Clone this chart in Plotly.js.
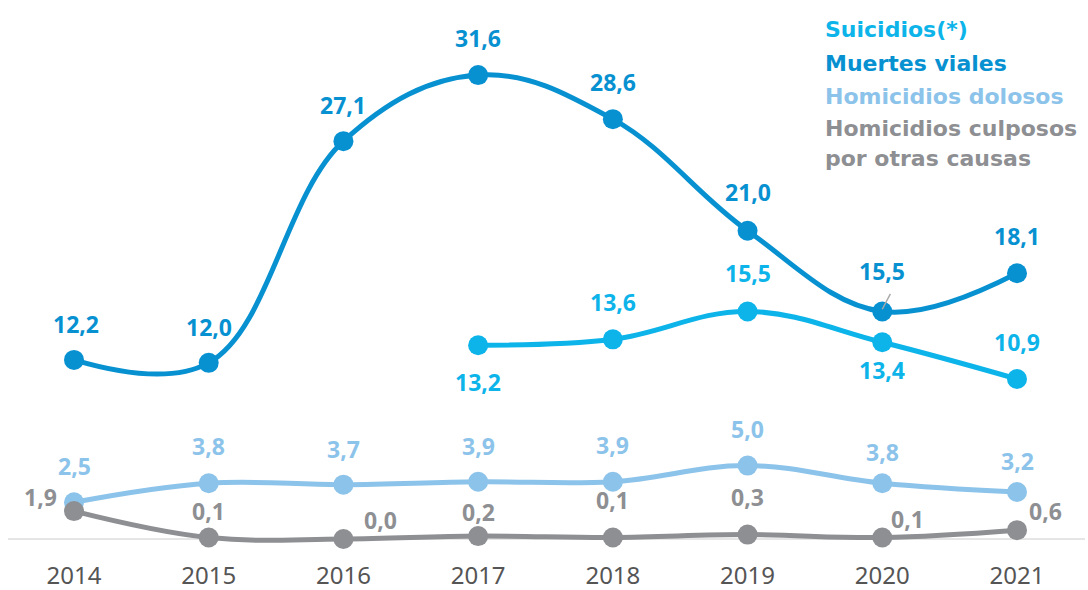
<!DOCTYPE html>
<html>
<head>
<meta charset="utf-8">
<script src="https://cdn.plot.ly/plotly-3.0.1.min.js"></script>
<style>html,body{margin:0;padding:0;background:#fff;}#chart{width:1088px;height:590px;}</style>
</head>
<body>
<div id="chart"></div>
<script>
const years = ["2014","2015","2016","2017","2018","2019","2020","2021"];
const muertesViales = [12.2, 12.0, 27.1, 31.6, 28.6, 21.0, 15.5, 18.1];
const suicidios = [null, null, null, 13.2, 13.6, 15.5, 13.4, 10.9];
const homicidiosDolosos = [2.5, 3.8, 3.7, 3.9, 3.9, 5.0, 3.8, 3.2];
const homicidiosCulposos = [1.9, 0.1, 0.0, 0.2, 0.1, 0.3, 0.1, 0.6];
const legendLines = ["Suicidios(*)", "Muertes viales", "Homicidios dolosos", "Homicidios culposos", "por otras causas"];

const C_MV = "#0891d1", C_SU = "#0db4ea", C_HD = "#8cc3ea", C_HC = "#8e8f93";
const FONT = "Noto Sans";
const LFONT = "DejaVu Sans";

// label pixel offsets [xshift, yshift]
const offMV = [[2,36],[0,36],[0,36],[0,37],[0,37],[0,39],[0,40],[0,37]];
const offSU = [null,null,null,[0,-37],[0,37],[0,38],[0,-28],[0,37]];
const offHD = [[0,36],[0,37],[0,36],[0,36],[0,37],[0,37],[0,31],[0,31]];
const offHC = [[-34,14],[0,27],[37,19],[0,24],[0,38],[0,38],[25,19],[28,19]];

const xs = years.map((_, i) => i);
function fmt(v){ return v.toFixed(1).replace(".", ","); }

function trace(vals, color){
  return {
    x: xs, y: vals, type: "scatter", mode: "lines+markers",
    line: {color: color, width: 5, shape: "spline", smoothing: 1.1},
    marker: {color: color, size: 20},
    cliponaxis: false, connectgaps: false, hoverinfo: "skip", showlegend: false
  };
}
const data = [
  trace(homicidiosDolosos, C_HD),
  trace(homicidiosCulposos, C_HC),
  trace(suicidios, C_SU),
  trace(muertesViales, C_MV)
];

const annotations = [];
function labels(vals, offs, color){
  vals.forEach((v, i) => {
    if (v === null) return;
    annotations.push({
      x: i, y: v, xref: "x", yref: "y", text: fmt(v), showarrow: false,
      xshift: offs[i][0], yshift: offs[i][1],
      font: {family: FONT, size: 23, color: color, weight: 700}
    });
  });
}
labels(muertesViales, offMV, C_MV);
labels(suicidios, offSU, C_SU);
labels(homicidiosDolosos, offHD, C_HD);
labels(homicidiosCulposos, offHC, C_HC);

const legendColors = [C_SU, C_MV, C_HD, C_HC, C_HC];
const legendY = [21, 58, 94, 129, 162];
legendLines.forEach((t, i) => {
  annotations.push({
    x: 823/1088, y: 1 - legendY[i]/590, xref: "paper", yref: "paper",
    xanchor: "left", yanchor: "middle", text: t, showarrow: false,
    font: {family: LFONT, size: 22, color: legendColors[i], weight: 700}
  });
});

// y-axis mapping: 0 at pixel 539, 14.68 px per unit; plot area 10..550
const pxPerUnit = 14.68;
const yMin = -(550 - 539) / pxPerUnit, yMax = (539 - 10) / pxPerUnit;
const spacing = (1017 - 74) / 7;
const xMin = -(74 - 8) / spacing, xMax = (1085 - 74) / spacing;

const layout = {
  width: 1088, height: 590,
  margin: {l: 8, r: 3, t: 10, b: 40},
  paper_bgcolor: "#ffffff", plot_bgcolor: "#ffffff",
  xaxis: {
    range: [xMin, xMax], tickvals: xs, ticktext: years,
    showgrid: false, zeroline: false, showline: false, ticks: "",
    tickfont: {family: FONT, size: 24, color: "#555555"},
    ticklabelstandoff: 9, fixedrange: true
  },
  yaxis: {
    range: [yMin, yMax], visible: false, showgrid: false, zeroline: false, fixedrange: true
  },
  shapes: [
    {type: "line", xref: "paper", yref: "y", x0: 0, x1: 1, y0: 0, y1: 0,
     line: {color: "#cccccc", width: 1}, layer: "below"},
    {type: "line", xref: "x", yref: "y", x0: 6, y0: muertesViales[6] + 0.15, x1: 6.06, y1: muertesViales[6] + 1.2,
     line: {color: "#aaaaaa", width: 1.5}, layer: "above"}
  ],
  annotations: annotations,
  showlegend: false
};

Plotly.newPlot("chart", data, layout, {staticPlot: true, displayModeBar: false});
</script>
</body>
</html>
